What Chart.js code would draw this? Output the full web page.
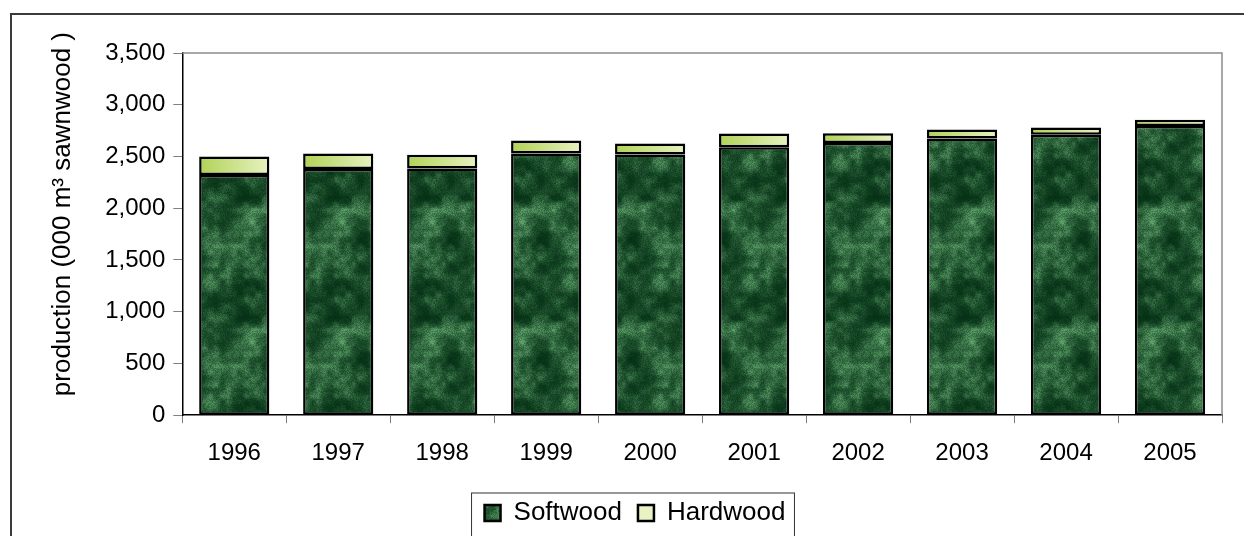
<!DOCTYPE html>
<html>
<head>
<meta charset="utf-8">
<script src="https://cdn.jsdelivr.net/npm/chart.js@4.4.1/dist/chart.umd.min.js"></script>
<style>
body { margin: 0; background: #fff; }
#frame { position: absolute; left: 10px; top: 13px; width: 1300px; height: 600px; border-left: 2px solid #3a3a3a; border-top: 2px solid #3a3a3a; }
#wrap { position: absolute; left: 0; top: 0; width: 1244px; height: 536px; }
</style>
</head>
<body>
<div id="frame"></div>
<div id="wrap"><canvas id="myChart"></canvas></div>
<script>
var years = ['1996', '1997', '1998', '1999', '2000', '2001', '2002', '2003', '2004', '2005'];
var softwood = [2320, 2380, 2385, 2530, 2520, 2590, 2630, 2675, 2710, 2795];
var hardwood = [180, 150, 132, 125, 105, 133, 95, 85, 70, 60];
var yMax = 3500, yStep = 500;
var yTitle = 'production (000 m\u00b3 sawnwood )';

// green "marble" fill, tiled so it repeats cleanly
function makeTexture(){
	var w = 90, h = 120;
	var c = document.createElement('canvas');
	c.width = w; c.height = h;
	var g = c.getContext('2d');
	var img = g.createImageData(w, h);
	function hash(i, j){ var s = Math.sin(i * 127.1 + j * 311.7) * 43758.5453; return s - Math.floor(s); }
	function noise(x, y, cell){
		var nx = w / cell, ny = h / cell;
		var fx = x / cell, fy = y / cell;
		var i = Math.floor(fx), j = Math.floor(fy);
		var tx = fx - i, ty = fy - j;
		tx = tx * tx * (3 - 2 * tx); ty = ty * ty * (3 - 2 * ty);
		var a = hash(i % nx, j % ny), b = hash((i + 1) % nx, j % ny);
		var cc = hash(i % nx, (j + 1) % ny), d = hash((i + 1) % nx, (j + 1) % ny);
		return (a * (1 - tx) + b * tx) * (1 - ty) + (cc * (1 - tx) + d * tx) * ty;
	}
	for (var y = 0; y < h; y++){
		for (var x = 0; x < w; x++){
			var v = 0.5 * noise(x, y, 15) + 0.3 * noise(x, y, 6) + 0.2 * hash(x + 3, y + 7);
			var t = Math.pow(v, 2.2);
			var p = (y * w + x) * 4;
			img.data[p] = 4 + t * 120;
			img.data[p + 1] = 48 + t * 150;
			img.data[p + 2] = 20 + t * 115;
			img.data[p + 3] = 255;
		}
	}
	g.putImageData(img, 0, 0);
	return c;
}

var ctx = document.getElementById('myChart');
var softFill = ctx.getContext('2d').createPattern(makeTexture(), 'repeat');

function hardFill(context){
	var chart = context.chart;
	if (context.dataIndex === undefined || !chart.chartArea) return '#cde38a';
	var x = chart.scales.x.getPixelForValue(context.dataIndex);
	var gr = chart.ctx.createLinearGradient(x - 36, 0, x + 36, 0);
	gr.addColorStop(0, '#b0d255');
	gr.addColorStop(1, '#e8f2c2');
	return gr;
}

var framePlugin = {
	id: 'frame',
	beforeDatasetsDraw: function(chart){
		var a = chart.chartArea, c = chart.ctx;
		c.save();
		c.strokeStyle = '#8c8c8c';
		c.lineWidth = 1.5;
		c.beginPath();
		c.moveTo(a.left, a.top);
		c.lineTo(a.right, a.top);
		c.lineTo(a.right, a.bottom);
		c.stroke();
		c.restore();
	},
	afterDraw: function(chart){
		var c = chart.ctx, a = chart.chartArea, ys = chart.scales.y;
		// axis title, sitting a little above the middle as in the original
		c.save();
		c.fillStyle = '#000';
		c.font = '26px "Liberation Sans", Arial, sans-serif';
		c.textAlign = 'center';
		c.textBaseline = 'middle';
		c.translate(ys.left + 15, (a.top + a.bottom) / 2 - 20);
		c.rotate(-Math.PI / 2);
		c.fillText(yTitle, 0, 0);
		c.restore();

		var hb = chart.legend.legendHitBoxes;
		if (!hb || !hb.length) return;
		var first = hb[0], last = hb[hb.length - 1];
		c.save();
		c.strokeStyle = '#333';
		c.lineWidth = 1;
		c.strokeRect(first.left - 13, first.top - 7, last.left + last.width - first.left + 22, first.height + 30);
		c.restore();
	}
};

Chart.defaults.font.family = '"Liberation Sans", Arial, sans-serif';
Chart.defaults.font.size = 24;
Chart.defaults.color = '#000';

var myChart = new Chart(ctx, {
	type: 'bar',
	data: {
		labels: years,
		datasets: [{
			label: 'Softwood',
			data: softwood,
			backgroundColor: softFill,
			borderColor: '#000',
			borderWidth: 2.5,
			borderSkipped: false,
			categoryPercentage: 1,
			barPercentage: 0.675
		}, {
			label: 'Hardwood',
			data: hardwood,
			backgroundColor: hardFill,
			borderColor: '#000',
			borderWidth: 2.5,
			borderSkipped: false,
			categoryPercentage: 1,
			barPercentage: 0.675
		}]
	},
	options: {
		animation: false,
		responsive: true,
		maintainAspectRatio: false,
		layout: { padding: { left: 48, right: 22, top: 53, bottom: 0 } },
		plugins: {
			tooltip: { enabled: false },
			legend: {
				position: 'bottom',
				labels: { boxWidth: 16, boxHeight: 16, padding: 16, font: { size: 26 } }
			}
		},
		scales: {
			x: {
				stacked: true,
				border: { color: '#000', width: 1.5 },
				grid: { drawOnChartArea: false, drawTicks: true, tickLength: 8, tickColor: '#808080', offset: true },
				ticks: { padding: 16, maxRotation: 0 }
			},
			y: {
				stacked: true,
				min: 0,
				max: yMax,
				border: { color: '#000', width: 1.5 },
				grid: { drawOnChartArea: false, drawTicks: true, tickLength: 9, tickColor: '#808080' },
				ticks: { stepSize: yStep, padding: 8 },
				title: { display: true, text: yTitle, color: 'rgba(0,0,0,0)', font: { size: 26 }, padding: { top: 0, bottom: 18 } }
			}
		}
	},
	plugins: [framePlugin]
});
</script>
</body>
</html>
